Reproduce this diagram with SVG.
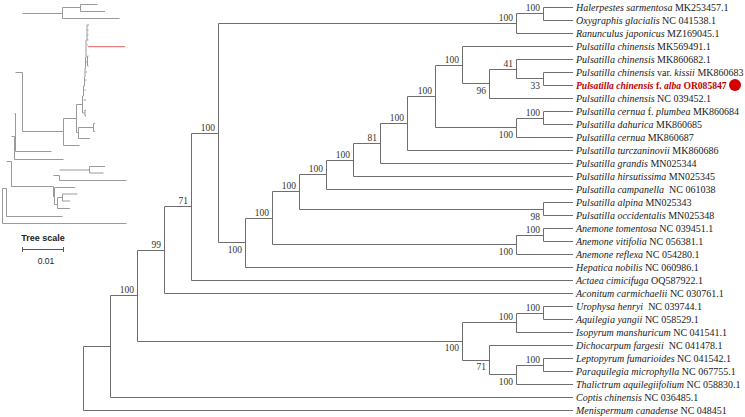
<svg xmlns="http://www.w3.org/2000/svg" width="745" height="417" viewBox="0 0 745 417">
<style>
.br{fill:none;stroke:#6e6e6e;stroke-width:1}
.ins{fill:none;stroke:#9a9a9a;stroke-width:1}
.lb{font-family:"Liberation Serif","Times New Roman",serif;font-size:10px;fill:#1a1a1a}
.bs{font-family:"Liberation Serif","Times New Roman",serif;font-size:9.5px;fill:#333;text-anchor:end}
.it{font-style:italic}
.hl{font-family:"Liberation Serif","Times New Roman",serif;font-size:9.6px;font-weight:bold;fill:#c00000}
.sc{font-family:"Liberation Sans",Arial,sans-serif;fill:#222}
</style>
<rect width="745" height="417" fill="#fff"/>

<g id="inset-tree">
<path class="ins" d="M2.5,188.5 V223.5 H126.5 M2.5,188.5 H6.5 V216.5 H62.5 M6.5,161.5 H11.5 V186.5 H53.5 M11.5,136.5 H14.5 V159.5 H63.5 M14.5,113.5 H15.5 V151.5 H51.5 M15.5,72.5 H22.5 V131.5 H63.5 M22.5,13.5 H62.5 M62.5,7.5 V18.5 H119.5 M62.5,7.5 H80.5 M80.5,4.5 V11.5 H105 M80.5,4.5 H97.5"/>
<path class="ins" d="M63.5,118.5 V145.5 H79.5 M63.5,118.5 H76.5 V132.5 H78.5 M76.5,104.5 V118.5 M76.5,104.5 H82.5 M78.5,127.5 V138.5 H90 M78.5,127.5 H93.5 V131.5 H95 M93.5,123.5 V127.5 M93.5,123.5 H95"/>
<path class="ins" d="M82.5,113 V96 H83.5 V86 H84.5 V77 H85 V68 H85.5 V58 H86 V40 H87 V25 H89 M82.5,113 H85 M85,110 V116 H86 M85,110 H86 M83.5,100 H86 M84.5,90 H86 M85,80 H86.5 M85.5,72 H87 M86,62 H87.5 M87.5,56 V66 H88.5 M87.5,56 H88.5 M87,45 H88 M87,30 H88.5 M87,35 H88.5 M87,40 H88.5"/>
<path d="M88,46.7 H125" fill="none" stroke="#e06060" stroke-width="1"/>
<path class="ins" d="M11.5,186.5 H53.5 V197 M53.5,175.5 H59.5 V180.5 H126.5 M59.5,170 H89.5 V173 H103.5 M89.5,166.5 H105 M89.5,166.5 V170 M53.5,196 H54.5 V187.5 H75 M54.5,196 V204.5 H57.5 V208.5 H70 M57.5,197.5 V204.5 M57.5,197.5 H62.5 V201 H70 M62.5,194 V197.5 M62.5,194 H77.5"/>
</g>

<g id="scale">
<text class="sc" x="43" y="240.5" font-size="9" font-weight="bold" text-anchor="middle">Tree scale</text>
<path d="M22.5,249.5 H63.5 M22.5,247 V252 M63.5,247 V252" fill="none" stroke="#555" stroke-width="1"/>
<text class="sc" x="46" y="264" font-size="8.5" text-anchor="middle">0.01</text>
</g>

<g id="connectors">
<path class="br" d="M110.5,346.5 H83.5 V410.5 H573"/>
<path class="br" d="M137.5,295.5 H110.5 V397.5 H573"/>
<path class="br" d="M164.5,250.5 H137.5 V341.5 H462.5"/>
<path class="br" d="M191.5,206.5 H164.5 V293.5 H573"/>
<path class="br" d="M218.5,133.5 H191.5 V280.5 H573"/>
<path class="br" d="M516.5,23.5 H218.5 V242.5 H245.5"/>
<path class="br" d="M543.5,13.5 H516.5 V33.5 H573"/>
<path class="br" d="M573,7.5 H543.5 V20.5 H573"/>
<path class="br" d="M272.5,218.5 H245.5 V267.5 H573"/>
<path class="br" d="M299.5,191.5 H272.5 V244.5 H516.5"/>
<path class="br" d="M326.5,174.5 H299.5 V209.5 H543.5"/>
<path class="br" d="M353.5,160.5 H326.5 V189.5 H573"/>
<path class="br" d="M380.5,143.5 H353.5 V176.5 H573"/>
<path class="br" d="M407.5,123.5 H380.5 V163.5 H573"/>
<path class="br" d="M435.5,96.5 H407.5 V150.5 H573"/>
<path class="br" d="M462.5,65.5 H435.5 V127.5 H516.5"/>
<path class="br" d="M573,46.5 H462.5 V83.5 H489.5"/>
<path class="br" d="M516.5,69.5 H489.5 V98.5 H573"/>
<path class="br" d="M573,59.5 H516.5 V78.5 H543.5"/>
<path class="br" d="M573,72.5 H543.5 V85.5 H573"/>
<path class="br" d="M543.5,118.5 H516.5 V137.5 H573"/>
<path class="br" d="M573,111.5 H543.5 V124.5 H573"/>
<path class="br" d="M573,202.5 H543.5 V215.5 H573"/>
<path class="br" d="M543.5,235.5 H516.5 V254.5 H573"/>
<path class="br" d="M573,228.5 H543.5 V241.5 H573"/>
<path class="br" d="M516.5,322.5 H462.5 V360.5 H489.5"/>
<path class="br" d="M543.5,313.5 H516.5 V332.5 H573"/>
<path class="br" d="M573,306.5 H543.5 V319.5 H573"/>
<path class="br" d="M573,345.5 H489.5 V374.5 H516.5"/>
<path class="br" d="M543.5,365.5 H516.5 V384.5 H573"/>
<path class="br" d="M573,358.5 H543.5 V371.5 H573"/>
</g>

<g id="bootstrap">
<text class="bs" x="540" y="10.5">100</text>
<text class="bs" x="513" y="20.5">100</text>
<text class="bs" x="459" y="62.5">100</text>
<text class="bs" x="513" y="66.5">41</text>
<text class="bs" x="486" y="94">96</text>
<text class="bs" x="540" y="88.5">33</text>
<text class="bs" x="540" y="115.5">100</text>
<text class="bs" x="513" y="137.5">100</text>
<text class="bs" x="432" y="93.5">100</text>
<text class="bs" x="404" y="120.5">100</text>
<text class="bs" x="377" y="140.5">81</text>
<text class="bs" x="350" y="157.5">100</text>
<text class="bs" x="323" y="171.5">100</text>
<text class="bs" x="296" y="188.5">100</text>
<text class="bs" x="540" y="219.5">98</text>
<text class="bs" x="540" y="232.5">100</text>
<text class="bs" x="513" y="254.5">100</text>
<text class="bs" x="269" y="215.5">100</text>
<text class="bs" x="242" y="252.5">100</text>
<text class="bs" x="215" y="130.5">100</text>
<text class="bs" x="188" y="203.5">71</text>
<text class="bs" x="161" y="247.5">99</text>
<text class="bs" x="134" y="292.5">100</text>
<text class="bs" x="540" y="310.5">100</text>
<text class="bs" x="513" y="319.5">100</text>
<text class="bs" x="459" y="351">100</text>
<text class="bs" x="486" y="370">71</text>
<text class="bs" x="540" y="362.5">100</text>
<text class="bs" x="513" y="384.5">100</text>
</g>

<g id="leaf-halerpestes"><text class="lb" x="576" y="11"><tspan class="it">Halerpestes sarmentosa</tspan> MK253457.1</text></g>
<g id="leaf-oxygraphis"><text class="lb" x="576" y="24"><tspan class="it">Oxygraphis glacialis</tspan> NC 041538.1</text></g>
<g id="leaf-ranunculus"><text class="lb" x="576" y="37"><tspan class="it">Ranunculus japonicus</tspan> MZ169045.1</text></g>
<g id="leaf-pchinensis-mk569491"><text class="lb" x="576" y="50"><tspan class="it">Pulsatilla chinensis</tspan> MK569491.1</text></g>
<g id="leaf-pchinensis-mk860682"><text class="lb" x="576" y="63"><tspan class="it">Pulsatilla chinensis</tspan> MK860682.1</text></g>
<g id="leaf-pchinensis-kissii"><text class="lb" x="576" y="76"><tspan class="it">Pulsatilla chinensis</tspan> var. <tspan class="it">kissii</tspan> MK860683</text></g>
<g id="leaf-pchinensis-alba"><text class="hl" x="576" y="89"><tspan class="it">Pulsatilla chinensis</tspan> f. <tspan class="it">alba</tspan> OR085847</text><circle cx="735" cy="85" r="6" fill="#d40000"/></g>
<g id="leaf-pchinensis-nc039452"><text class="lb" x="576" y="102"><tspan class="it">Pulsatilla chinensis</tspan> NC 039452.1</text></g>
<g id="leaf-pcernua-plumbea"><text class="lb" x="576" y="115"><tspan class="it">Pulsatilla cernua</tspan> f. <tspan class="it">plumbea</tspan> MK860684</text></g>
<g id="leaf-pdahurica"><text class="lb" x="576" y="128"><tspan class="it">Pulsatilla dahurica</tspan> MK860685</text></g>
<g id="leaf-pcernua"><text class="lb" x="576" y="141"><tspan class="it">Pulsatilla cernua</tspan> MK860687</text></g>
<g id="leaf-pturczaninovii"><text class="lb" x="576" y="154"><tspan class="it">Pulsatilla turczaninovii</tspan> MK860686</text></g>
<g id="leaf-pgrandis"><text class="lb" x="576" y="167"><tspan class="it">Pulsatilla grandis</tspan> MN025344</text></g>
<g id="leaf-phirsutissima"><text class="lb" x="576" y="180"><tspan class="it">Pulsatilla hirsutissima</tspan> MN025345</text></g>
<g id="leaf-pcampanella"><text class="lb" x="576" y="193"><tspan class="it">Pulsatilla campanella</tspan> <tspan dx="2.5">NC 061038</tspan></text></g>
<g id="leaf-palpina"><text class="lb" x="576" y="206"><tspan class="it">Pulsatilla alpina</tspan> MN025343</text></g>
<g id="leaf-poccidentalis"><text class="lb" x="576" y="219"><tspan class="it">Pulsatilla occidentalis</tspan> MN025348</text></g>
<g id="leaf-atomentosa"><text class="lb" x="576" y="232"><tspan class="it">Anemone tomentosa</tspan> NC 039451.1</text></g>
<g id="leaf-avitifolia"><text class="lb" x="576" y="245"><tspan class="it">Anemone vitifolia</tspan> NC 056381.1</text></g>
<g id="leaf-areflexa"><text class="lb" x="576" y="258"><tspan class="it">Anemone reflexa</tspan> NC 054280.1</text></g>
<g id="leaf-hepatica"><text class="lb" x="576" y="271"><tspan class="it">Hepatica nobilis</tspan> NC 060986.1</text></g>
<g id="leaf-actaea"><text class="lb" x="576" y="284"><tspan class="it">Actaea cimicifuga</tspan> OQ587922.1</text></g>
<g id="leaf-aconitum"><text class="lb" x="576" y="297"><tspan class="it">Aconitum carmichaelii</tspan> NC 030761.1</text></g>
<g id="leaf-urophysa"><text class="lb" x="576" y="310"><tspan class="it">Urophysa henryi</tspan> <tspan dx="2.5">NC 039744.1</tspan></text></g>
<g id="leaf-aquilegia"><text class="lb" x="576" y="323"><tspan class="it">Aquilegia yangii</tspan> NC 058529.1</text></g>
<g id="leaf-isopyrum"><text class="lb" x="576" y="336"><tspan class="it">Isopyrum manshuricum</tspan> NC 041541.1</text></g>
<g id="leaf-dichocarpum"><text class="lb" x="576" y="349"><tspan class="it">Dichocarpum fargesii</tspan> <tspan dx="2.5">NC 041478.1</tspan></text></g>
<g id="leaf-leptopyrum"><text class="lb" x="576" y="362"><tspan class="it">Leptopyrum fumarioides</tspan> NC 041542.1</text></g>
<g id="leaf-paraquilegia"><text class="lb" x="576" y="375"><tspan class="it">Paraquilegia microphylla</tspan> NC 067755.1</text></g>
<g id="leaf-thalictrum"><text class="lb" x="576" y="388"><tspan class="it">Thalictrum aquilegiifolium</tspan> NC 058830.1</text></g>
<g id="leaf-coptis"><text class="lb" x="576" y="401"><tspan class="it">Coptis chinensis</tspan> NC 036485.1</text></g>
<g id="leaf-menispermum"><text class="lb" x="576" y="414"><tspan class="it">Menispermum canadense</tspan> NC 048451</text></g>
</svg>
